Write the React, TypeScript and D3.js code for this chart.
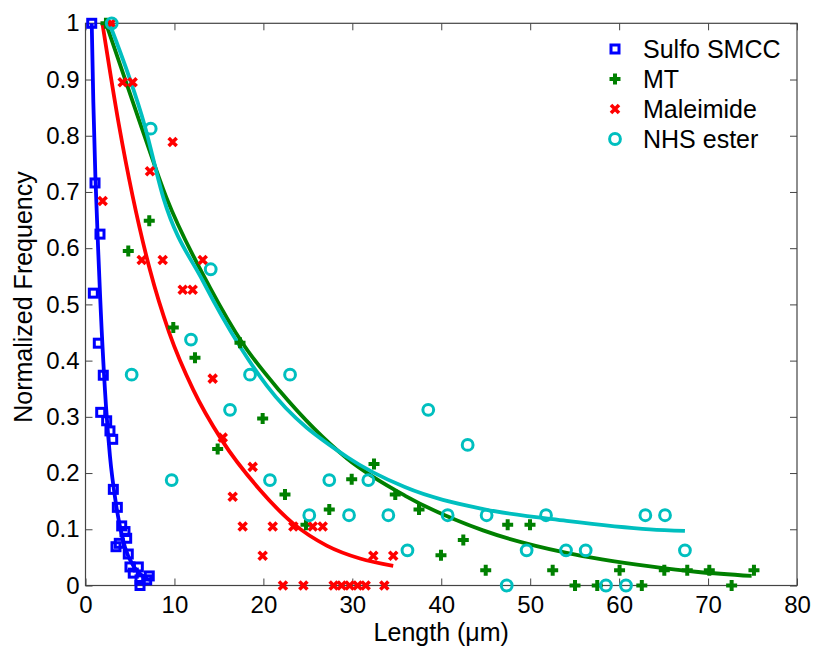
import React, { useEffect, useRef } from "react";
import * as d3 from "d3";

const sulfoX = [0.7, 1.07, 1.63, 0.88, 1.44, 2.0, 1.71, 2.38, 2.75, 3.06, 3.13, 3.58, 4.07, 4.44, 4.63, 3.43, 3.8, 4.81, 5.0, 5.94, 5.37, 6.13, 7.17, 6.88, 6.13];
const sulfoY = [1.0, 0.716, 0.625, 0.52, 0.431, 0.374, 0.308, 0.293, 0.275, 0.26, 0.171, 0.139, 0.106, 0.096, 0.084, 0.069, 0.075, 0.056, 0.033, 0.033, 0.022, 0.01, 0.017, 0.01, 0.0];

const mtX = [2.3, 7.17, 4.81, 9.87, 12.31, 17.37, 19.92, 14.86, 22.43, 24.79, 27.41, 29.93, 32.44, 34.83, 37.5, 42.48, 39.97, 45.0, 47.47, 49.98, 52.53, 55.04, 57.54, 60.05, 62.55, 65.08, 67.66, 70.14, 72.65, 75.16];
const mtY = [1.0, 0.649, 0.595, 0.459, 0.405, 0.432, 0.297, 0.243, 0.162, 0.108, 0.135, 0.189, 0.216, 0.162, 0.135, 0.081, 0.054, 0.027, 0.108, 0.108, 0.027, 0, 0, 0.027, 0, 0.027, 0.027, 0.027, 0, 0.027];

const malX = [2.9, 4.18, 5.3, 1.93, 7.25, 6.32, 8.68, 9.8, 13.18, 10.93, 12.05, 14.3, 15.43, 18.8, 16.55, 17.67, 21.05, 23.37, 25.55, 26.67, 19.92, 32.36, 34.6, 22.2, 24.5, 27.9, 28.8, 29.7, 30.6, 31.5, 33.6];
const malY = [1.0, 0.895, 0.895, 0.684, 0.737, 0.579, 0.579, 0.789, 0.579, 0.526, 0.526, 0.368, 0.263, 0.211, 0.158, 0.105, 0.105, 0.105, 0.105, 0.105, 0.053, 0.053, 0.053, 0, 0, 0, 0, 0, 0, 0, 0];

const nhsX = [2.95, 7.33, 5.19, 14.08, 11.86, 18.5, 23.0, 9.69, 16.25, 20.74, 27.41, 31.8, 25.16, 29.63, 34.05, 36.2, 38.54, 42.97, 40.72, 45.1, 51.78, 49.6, 54.03, 56.24, 47.36, 58.52, 60.77, 62.95, 65.16, 67.4];
const nhsY = [1.0, 0.8125, 0.375, 0.5625, 0.4375, 0.375, 0.375, 0.1875, 0.3125, 0.1875, 0.1875, 0.1875, 0.125, 0.125, 0.125, 0.0625, 0.3125, 0.25, 0.125, 0.125, 0.125, 0.0625, 0.0625, 0.0625, 0, 0, 0, 0.125, 0.125, 0.0625];

// fitted curves, sampled from the figure
const sulfoFitX = [0.7, 0.88, 1.55, 2.3, 2.75, 3.43, 4.44, 5.5, 6.5, 7.2];
const sulfoFitY = [1.0, 0.86, 0.55, 0.32, 0.23, 0.145, 0.068, 0.032, 0.016, 0.01];
const mtFitX = [2.3, 6.3, 9.1, 14.0, 17.7, 21.9, 29.4, 35.9, 44.7, 54.1, 63.5, 68.9, 74.9];
const mtFitY = [1.0, 0.815, 0.69, 0.53, 0.43, 0.345, 0.226, 0.16, 0.098, 0.058, 0.034, 0.024, 0.017];
const malFitX = [1.9, 3.75, 7.25, 9.43, 12.12, 15.31, 19.62, 23.37, 27.12, 30.86, 34.6];
const malFitY = [1.0, 0.82, 0.561, 0.449, 0.348, 0.259, 0.17, 0.11, 0.071, 0.048, 0.035];
const nhsFitX = [2.68, 6.69, 8.75, 13.25, 17.37, 20.4, 29.37, 35.9, 44.73, 54.1, 63.47, 67.4];
const nhsFitY = [1.0, 0.816, 0.69, 0.54, 0.425, 0.355, 0.229, 0.175, 0.136, 0.115, 0.1, 0.097];

const seriesNames = ["Sulfo SMCC", "MT", "Maleimide", "NHS ester"];
const xTicks = [0, 10, 20, 30, 40, 50, 60, 70, 80];
const yTicks = [0, 0.1, 0.2, 0.3, 0.4, 0.5, 0.6, 0.7, 0.8, 0.9, 1];

const FONT = "'Liberation Sans', Arial, Helvetica, sans-serif";

export default function App() {
  const svgRef = useRef<SVGSVGElement>(null);

  useEffect(() => {
    const svg = d3.select(svgRef.current);
    svg.selectAll("*").remove();

    const left = 85.5, right = 797, top = 23.3, bottom = 585.5;
    const x = d3.scaleLinear().domain([0, 80]).range([left, right]);
    const y = d3.scaleLinear().domain([0, 1]).range([bottom, top]);

    const zip = (xs: number[], ys: number[]) => xs.map((v, i) => [v, ys[i]] as [number, number]);

    const series = [
      { pts: zip(sulfoX, sulfoY), fit: zip(sulfoFitX, sulfoFitY), color: "#0000ff", marker: "square" },
      { pts: zip(mtX, mtY), fit: zip(mtFitX, mtFitY), color: "#008000", marker: "plus" },
      { pts: zip(malX, malY), fit: zip(malFitX, malFitY), color: "#ff0000", marker: "cross" },
      { pts: zip(nhsX, nhsY), fit: zip(nhsFitX, nhsFitY), color: "#00bfbf", marker: "circle" },
    ];

    const drawMarker = (g: any, kind: string, color: string, px: number, py: number) => {
      if (kind === "square") {
        g.append("rect").attr("x", px - 4).attr("y", py - 4).attr("width", 8).attr("height", 8)
          .attr("fill", "none").attr("stroke", color).attr("stroke-width", 3);
      } else if (kind === "plus") {
        g.append("path").attr("d", `M${px - 5.5},${py}H${px + 5.5}M${px},${py - 5.5}V${py + 5.5}`)
          .attr("stroke", color).attr("stroke-width", 4).attr("fill", "none");
      } else if (kind === "cross") {
        g.append("path").attr("d", `M${px - 4},${py - 4}L${px + 4},${py + 4}M${px - 4},${py + 4}L${px + 4},${py - 4}`)
          .attr("stroke", color).attr("stroke-width", 3.6).attr("fill", "none");
      } else {
        g.append("circle").attr("cx", px).attr("cy", py).attr("r", 5.4)
          .attr("fill", "none").attr("stroke", color).attr("stroke-width", 3);
      }
    };

    // axes with inward ticks
    const fmt = (d: any) => String(d);
    const xAxis = svg.append("g").attr("transform", `translate(0,${bottom})`)
      .call(d3.axisBottom(x).tickValues(xTicks).tickFormat(fmt).tickSize(-7).tickSizeOuter(0).tickPadding(10));
    const yAxis = svg.append("g").attr("transform", `translate(${left},0)`)
      .call(d3.axisLeft(y).tickValues(yTicks).tickFormat(fmt).tickSize(-7).tickSizeOuter(0).tickPadding(6));
    const xTop = svg.append("g").attr("transform", `translate(0,${top})`)
      .call(d3.axisTop(x).tickValues(xTicks).tickFormat(() => "").tickSize(-7).tickSizeOuter(0));
    const yRight = svg.append("g").attr("transform", `translate(${right},0)`)
      .call(d3.axisRight(y).tickValues(yTicks).tickFormat(() => "").tickSize(-7).tickSizeOuter(0));
    [xAxis, yAxis, xTop, yRight].forEach((a) => {
      a.select(".domain").remove();
      a.selectAll("line").attr("stroke", "#444");
      a.selectAll("text").attr("font-family", FONT).attr("font-size", 24).attr("fill", "#000");
    });

    svg.append("rect").attr("x", left).attr("y", top).attr("width", right - left).attr("height", bottom - top)
      .attr("fill", "none").attr("stroke", "#444").attr("stroke-width", 1.2);

    const line = d3.line<[number, number]>().x((d) => x(d[0])).y((d) => y(d[1])).curve(d3.curveMonotoneX);

    const plot = svg.append("g");
    series.forEach((s) => {
      plot.append("path").attr("d", line(s.fit) as string).attr("fill", "none")
        .attr("stroke", s.color).attr("stroke-width", 3.8);
    });
    series.forEach((s) => {
      const g = plot.append("g");
      s.pts.forEach(([vx, vy]) => drawMarker(g, s.marker, s.color, x(vx), y(vy)));
    });

    // legend
    const legend = svg.append("g");
    series.forEach((s, i) => {
      const ly = 49 + i * 30;
      drawMarker(legend, s.marker, s.color, 615, ly);
      legend.append("text").attr("x", 643).attr("y", ly + 9).text(seriesNames[i])
        .attr("font-family", FONT).attr("font-size", 25).attr("fill", "#000");
    });

    // axis titles
    svg.append("text").attr("x", (left + right) / 2).attr("y", 641).attr("text-anchor", "middle")
      .attr("font-family", FONT).attr("font-size", 25).text("Length (\u03bcm)");
    svg.append("text").attr("transform", `translate(32,297) rotate(-90)`).attr("text-anchor", "middle")
      .attr("font-family", FONT).attr("font-size", 25).text("Normalized Frequency");
  }, []);

  return (
    <svg ref={svgRef} width={813} height={648}
      style={{ position: "absolute", left: 0, top: 0, background: "#fff" }} />
  );
}
